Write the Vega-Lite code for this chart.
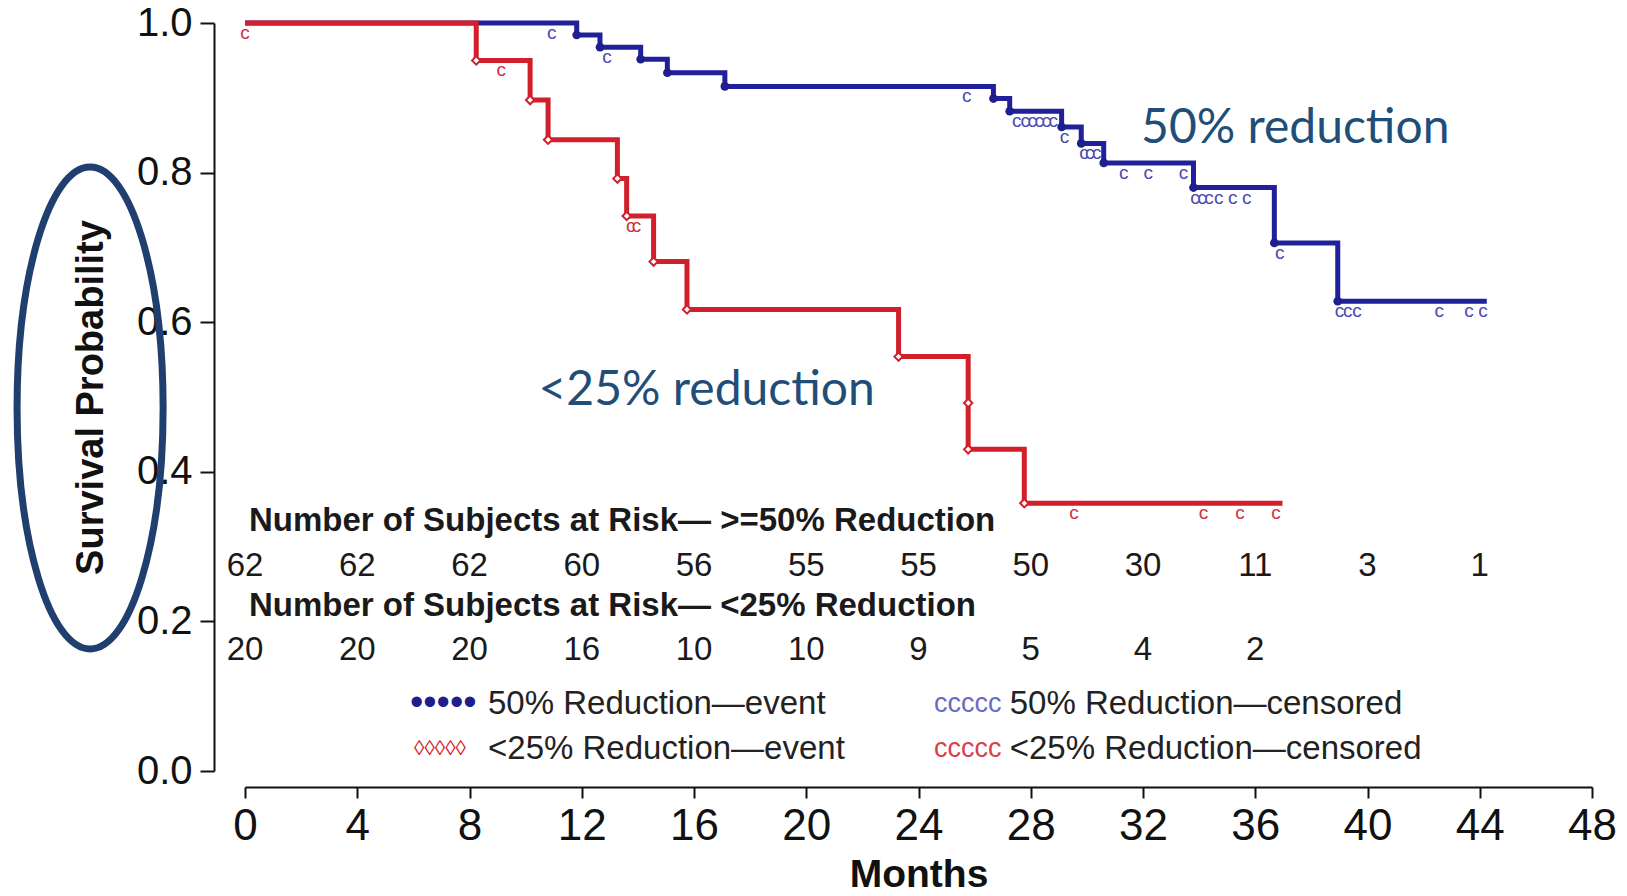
{
  "$schema": "https://vega.github.io/schema/vega-lite/v6.json",
  "width": 1347,
  "height": 748,
  "autosize": "none",
  "padding": {"left": 245, "top": 23, "right": 35, "bottom": 125},
  "background": "white",
  "config": {
    "view": {"stroke": null},
    "font": "Liberation Sans",
    "axis": {"domainColor": "#111", "tickColor": "#111", "labelColor": "#111", "titleColor": "#111", "grid": false, "labelFont": "Liberation Sans", "titleFont": "Liberation Sans"}
  },
  "datasets": {
    "curve": [
      {"group": "b", "month": 0, "surv": 1.0},
      {"group": "b", "month": 11.82, "surv": 0.9839},
      {"group": "b", "month": 12.65, "surv": 0.9677},
      {"group": "b", "month": 14.1, "surv": 0.9516},
      {"group": "b", "month": 15.05, "surv": 0.9335},
      {"group": "b", "month": 17.1, "surv": 0.9152},
      {"group": "b", "month": 26.67, "surv": 0.899},
      {"group": "b", "month": 27.25, "surv": 0.882},
      {"group": "b", "month": 29.1, "surv": 0.861},
      {"group": "b", "month": 29.8, "surv": 0.839},
      {"group": "b", "month": 30.6, "surv": 0.813},
      {"group": "b", "month": 33.8, "surv": 0.78},
      {"group": "b", "month": 36.68, "surv": 0.706},
      {"group": "b", "month": 38.94, "surv": 0.628},
      {"group": "b", "month": 44.25, "surv": 0.628},
      {"group": "r", "month": 0, "surv": 1.0},
      {"group": "r", "month": 8.24, "surv": 0.95},
      {"group": "r", "month": 10.16, "surv": 0.897},
      {"group": "r", "month": 10.8, "surv": 0.844},
      {"group": "r", "month": 13.27, "surv": 0.792},
      {"group": "r", "month": 13.6, "surv": 0.742},
      {"group": "r", "month": 14.56, "surv": 0.681},
      {"group": "r", "month": 15.75, "surv": 0.617},
      {"group": "r", "month": 23.29, "surv": 0.554},
      {"group": "r", "month": 25.77, "surv": 0.43},
      {"group": "r", "month": 27.77, "surv": 0.358},
      {"group": "r", "month": 36.97, "surv": 0.358}
    ],
    "events": [
      {"group": "b", "month": 11.82, "surv": 0.9839},
      {"group": "b", "month": 12.65, "surv": 0.9677},
      {"group": "b", "month": 14.1, "surv": 0.9516},
      {"group": "b", "month": 15.05, "surv": 0.9335},
      {"group": "b", "month": 17.1, "surv": 0.9152},
      {"group": "b", "month": 26.67, "surv": 0.899},
      {"group": "b", "month": 27.25, "surv": 0.882},
      {"group": "b", "month": 29.1, "surv": 0.861},
      {"group": "b", "month": 29.8, "surv": 0.839},
      {"group": "b", "month": 30.6, "surv": 0.813},
      {"group": "b", "month": 33.8, "surv": 0.78},
      {"group": "b", "month": 36.68, "surv": 0.706},
      {"group": "b", "month": 38.94, "surv": 0.628},
      {"group": "r", "month": 8.24, "surv": 0.95},
      {"group": "r", "month": 10.16, "surv": 0.897},
      {"group": "r", "month": 10.8, "surv": 0.844},
      {"group": "r", "month": 13.27, "surv": 0.792},
      {"group": "r", "month": 13.6, "surv": 0.742},
      {"group": "r", "month": 14.56, "surv": 0.681},
      {"group": "r", "month": 15.75, "surv": 0.617},
      {"group": "r", "month": 23.29, "surv": 0.554},
      {"group": "r", "month": 25.77, "surv": 0.492},
      {"group": "r", "month": 25.77, "surv": 0.43},
      {"group": "r", "month": 27.77, "surv": 0.358}
    ],
    "censored": [
      {"group": "b", "month": 10.93, "surv": 1.0},
      {"group": "b", "month": 12.9, "surv": 0.9677},
      {"group": "b", "month": 25.72, "surv": 0.9152},
      {"group": "b", "month": 27.5, "surv": 0.882},
      {"group": "b", "month": 27.8, "surv": 0.882},
      {"group": "b", "month": 28.05, "surv": 0.882},
      {"group": "b", "month": 28.3, "surv": 0.882},
      {"group": "b", "month": 28.55, "surv": 0.882},
      {"group": "b", "month": 28.8, "surv": 0.882},
      {"group": "b", "month": 29.2, "surv": 0.861},
      {"group": "b", "month": 29.9, "surv": 0.839},
      {"group": "b", "month": 30.1, "surv": 0.839},
      {"group": "b", "month": 30.35, "surv": 0.839},
      {"group": "b", "month": 31.31, "surv": 0.813},
      {"group": "b", "month": 32.19, "surv": 0.813},
      {"group": "b", "month": 33.44, "surv": 0.813},
      {"group": "b", "month": 33.85, "surv": 0.78},
      {"group": "b", "month": 34.1, "surv": 0.78},
      {"group": "b", "month": 34.35, "surv": 0.78},
      {"group": "b", "month": 34.7, "surv": 0.78},
      {"group": "b", "month": 35.2, "surv": 0.78},
      {"group": "b", "month": 35.7, "surv": 0.78},
      {"group": "b", "month": 36.87, "surv": 0.706},
      {"group": "b", "month": 39.0, "surv": 0.628},
      {"group": "b", "month": 39.3, "surv": 0.628},
      {"group": "b", "month": 39.63, "surv": 0.628},
      {"group": "b", "month": 42.56, "surv": 0.628},
      {"group": "b", "month": 43.62, "surv": 0.628},
      {"group": "b", "month": 44.12, "surv": 0.628},
      {"group": "r", "month": 0, "surv": 1.0},
      {"group": "r", "month": 9.13, "surv": 0.95},
      {"group": "r", "month": 13.75, "surv": 0.742},
      {"group": "r", "month": 13.95, "surv": 0.742},
      {"group": "r", "month": 29.54, "surv": 0.358},
      {"group": "r", "month": 34.16, "surv": 0.358},
      {"group": "r", "month": 35.46, "surv": 0.358},
      {"group": "r", "month": 36.74, "surv": 0.358}
    ],
    "risk": [
      {"group": "b", "month": 0, "n": 62},
      {"group": "b", "month": 4, "n": 62},
      {"group": "b", "month": 8, "n": 62},
      {"group": "b", "month": 12, "n": 60},
      {"group": "b", "month": 16, "n": 56},
      {"group": "b", "month": 20, "n": 55},
      {"group": "b", "month": 24, "n": 55},
      {"group": "b", "month": 28, "n": 50},
      {"group": "b", "month": 32, "n": 30},
      {"group": "b", "month": 36, "n": 11},
      {"group": "b", "month": 40, "n": 3},
      {"group": "b", "month": 44, "n": 1},
      {"group": "r", "month": 0, "n": 20},
      {"group": "r", "month": 4, "n": 20},
      {"group": "r", "month": 8, "n": 20},
      {"group": "r", "month": 12, "n": 16},
      {"group": "r", "month": 16, "n": 10},
      {"group": "r", "month": 20, "n": 10},
      {"group": "r", "month": 24, "n": 9},
      {"group": "r", "month": 28, "n": 5},
      {"group": "r", "month": 32, "n": 4},
      {"group": "r", "month": 36, "n": 2}
    ]
  },
  "layer": [
    {
      "data": {"name": "curve"},
      "mark": {"type": "line", "interpolate": "step-after", "strokeWidth": 5},
      "encoding": {
        "x": {"field": "month", "type": "quantitative", "scale": {"domain": [0, 48], "nice": false, "zero": false},
          "axis": {"title": "Months", "values": [0, 4, 8, 12, 16, 20, 24, 28, 32, 36, 40, 44, 48], "offset": 16, "tickSize": 11, "tickWidth": 2, "domainWidth": 2, "labelFontSize": 44, "labelPadding": 6, "labelFlush": false, "labelOverlap": false, "titleFontSize": 39, "titleFontWeight": "bold", "titlePadding": 7}},
        "y": {"field": "surv", "type": "quantitative", "scale": {"domain": [0, 1], "nice": false},
          "axis": {"title": "Survival Probability", "values": [0, 0.2, 0.4, 0.6, 0.8, 1.0], "format": ".1f", "offset": 31, "tickSize": 14, "tickWidth": 2, "domainWidth": 2, "labelFontSize": 40, "labelPadding": 8, "labelFlush": false, "titleFontSize": 38, "titleFontWeight": "bold", "titlePadding": 26}},
        "color": {"field": "group", "type": "nominal", "scale": {"domain": ["b", "r"], "range": ["#20209a", "#d11f2b"]}, "legend": null}
      }
    },
    {
      "data": {"name": "events"},
      "transform": [{"filter": "datum.group === 'b'"}],
      "mark": {"type": "point", "shape": "circle", "filled": true, "color": "#1e1e8c", "size": 75, "opacity": 1},
      "encoding": {"x": {"field": "month", "type": "quantitative"}, "y": {"field": "surv", "type": "quantitative"}}
    },
    {
      "data": {"name": "events"},
      "transform": [{"filter": "datum.group === 'r'"}],
      "mark": {"type": "point", "shape": "diamond", "filled": true, "fill": "white", "stroke": "#d11f2b", "strokeWidth": 2, "size": 70, "opacity": 1},
      "encoding": {"x": {"field": "month", "type": "quantitative"}, "y": {"field": "surv", "type": "quantitative"}}
    },
    {
      "data": {"name": "censored"},
      "transform": [{"filter": "datum.group === 'b'"}],
      "mark": {"type": "text", "text": "c", "fontSize": 19, "baseline": "top", "align": "center", "dy": 1, "color": "#4a4ab0"},
      "encoding": {"x": {"field": "month", "type": "quantitative"}, "y": {"field": "surv", "type": "quantitative"}}
    },
    {
      "data": {"name": "censored"},
      "transform": [{"filter": "datum.group === 'r'"}],
      "mark": {"type": "text", "text": "c", "fontSize": 19, "baseline": "top", "align": "center", "dy": 1, "color": "#d03040"},
      "encoding": {"x": {"field": "month", "type": "quantitative"}, "y": {"field": "surv", "type": "quantitative"}}
    },
    {
      "data": {"name": "risk"},
      "transform": [{"filter": "datum.group === 'b'"}],
      "mark": {"type": "text", "fontSize": 33, "align": "center", "baseline": "middle", "color": "#1a1a1a"},
      "encoding": {"x": {"field": "month", "type": "quantitative"}, "y": {"datum": 0.2746}, "text": {"field": "n"}}
    },
    {
      "data": {"name": "risk"},
      "transform": [{"filter": "datum.group === 'r'"}],
      "mark": {"type": "text", "fontSize": 33, "align": "center", "baseline": "middle", "color": "#1a1a1a"},
      "encoding": {"x": {"field": "month", "type": "quantitative"}, "y": {"datum": 0.1622}, "text": {"field": "n"}}
    },
    {
      "data": {"values": [{"label": "Number of Subjects at Risk— >=50% Reduction"}]},
      "mark": {"type": "text", "fontSize": 33, "fontWeight": "bold", "align": "left", "baseline": "middle", "color": "#1a1a1a"},
      "encoding": {"x": {"datum": 0.14}, "y": {"datum": 0.3348}, "text": {"field": "label"}}
    },
    {
      "data": {"values": [{"label": "Number of Subjects at Risk— <25% Reduction"}]},
      "mark": {"type": "text", "fontSize": 33, "fontWeight": "bold", "align": "left", "baseline": "middle", "color": "#1a1a1a"},
      "encoding": {"x": {"datum": 0.14}, "y": {"datum": 0.2204}, "text": {"field": "label"}}
    },
    {
      "data": {"values": [{"sym": "•••••"}]},
      "mark": {"type": "text", "fontSize": 38, "align": "left", "baseline": "middle", "color": "#1e1e8c"},
      "encoding": {"x": {"datum": 5.88}, "y": {"datum": 0.0899}, "text": {"field": "sym"}}
    },
    {
      "data": {"values": [{"sym": "◊◊◊◊◊"}]},
      "mark": {"type": "text", "fontSize": 21, "align": "left", "baseline": "middle", "color": "#d11f2b", "dx": 4},
      "encoding": {"x": {"datum": 5.88}, "y": {"datum": 0.029}, "text": {"field": "sym"}}
    },
    {
      "data": {"values": [{"sym": "ccccc"}]},
      "mark": {"type": "text", "fontSize": 27, "align": "left", "baseline": "middle", "color": "#6a6ac0"},
      "encoding": {"x": {"datum": 24.55}, "y": {"datum": 0.0899}, "text": {"field": "sym"}}
    },
    {
      "data": {"values": [{"sym": "ccccc"}]},
      "mark": {"type": "text", "fontSize": 27, "align": "left", "baseline": "middle", "color": "#d8404e"},
      "encoding": {"x": {"datum": 24.55}, "y": {"datum": 0.029}, "text": {"field": "sym"}}
    },
    {
      "data": {"values": [{"label": "50% Reduction—event"}]},
      "mark": {"type": "text", "fontSize": 33, "align": "left", "baseline": "middle", "color": "#222"},
      "encoding": {"x": {"datum": 8.66}, "y": {"datum": 0.0899}, "text": {"field": "label"}}
    },
    {
      "data": {"values": [{"label": "<25% Reduction—event"}]},
      "mark": {"type": "text", "fontSize": 33, "align": "left", "baseline": "middle", "color": "#222"},
      "encoding": {"x": {"datum": 8.66}, "y": {"datum": 0.029}, "text": {"field": "label"}}
    },
    {
      "data": {"values": [{"label": "50% Reduction—censored"}]},
      "mark": {"type": "text", "fontSize": 33, "align": "left", "baseline": "middle", "color": "#222"},
      "encoding": {"x": {"datum": 27.25}, "y": {"datum": 0.0899}, "text": {"field": "label"}}
    },
    {
      "data": {"values": [{"label": "<25% Reduction—censored"}]},
      "mark": {"type": "text", "fontSize": 33, "align": "left", "baseline": "middle", "color": "#222"},
      "encoding": {"x": {"datum": 27.25}, "y": {"datum": 0.029}, "text": {"field": "label"}}
    },
    {
      "data": {"values": [{"label": "50% reduction"}]},
      "mark": {"type": "text", "font": "Lato", "fontSize": 48, "align": "left", "baseline": "alphabetic", "color": "#1f4e79"},
      "encoding": {"x": {"datum": 31.93}, "y": {"datum": 0.8396}, "text": {"field": "label"}}
    },
    {
      "data": {"values": [{"label": "<25% reduction"}]},
      "mark": {"type": "text", "font": "Lato", "fontSize": 48, "align": "left", "baseline": "alphabetic", "color": "#1f4e79"},
      "encoding": {"x": {"datum": 10.46}, "y": {"datum": 0.4897}, "text": {"field": "label"}}
    },
    {
      "data": {"values": [{"note": "ellipse"}]},
      "mark": {"type": "point", "shape": "M0,-1A0.303,1,0,1,1,0,1A0.303,1,0,1,1,0,-1Z", "filled": false, "stroke": "#1f3f6f", "strokeWidth": 7, "size": 232324, "opacity": 1},
      "encoding": {"x": {"datum": -5.52}, "y": {"datum": 0.4853}}
    }
  ]
}
